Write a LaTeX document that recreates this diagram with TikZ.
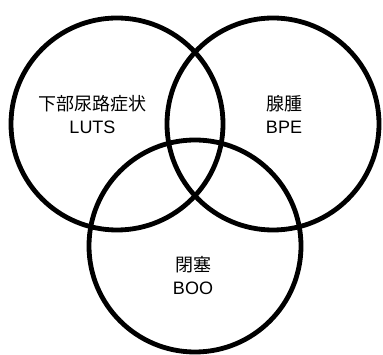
\documentclass[tikz,border=0pt]{standalone}
\usepackage{fontspec}
\setmainfont{Liberation Sans}
\newfontfamily\jp{Noto Sans CJK JP}
\begin{document}
\begin{tikzpicture}[x=1pt,y=-1pt,
  venn/.style={circle,draw=black,line width=4.8pt,inner sep=0pt,minimum size=212pt},
  lab/.style={anchor=base,inner sep=0pt,font=\fontsize{18}{22}\selectfont}]
\useasboundingbox (0,0) rectangle (383,355);
\node[venn] (L) at (117,124) {};
\node[venn] (R) at (273,124) {};
\node[venn] (B) at (195,246) {};
\node[lab] (l1) at (92.5,111) {\jp 下部尿路症状};
\node[lab] (l2) at (92.5,133.5) {LUTS};
\node[lab] (r1) at (284,111) {\jp 腺腫};
\node[lab] (r2) at (284,134) {BPE};
\node[lab] (b1) at (193,272) {\jp 閉塞};
\node[lab] (b2) at (193,295) {BOO};
\end{tikzpicture}
\end{document}
